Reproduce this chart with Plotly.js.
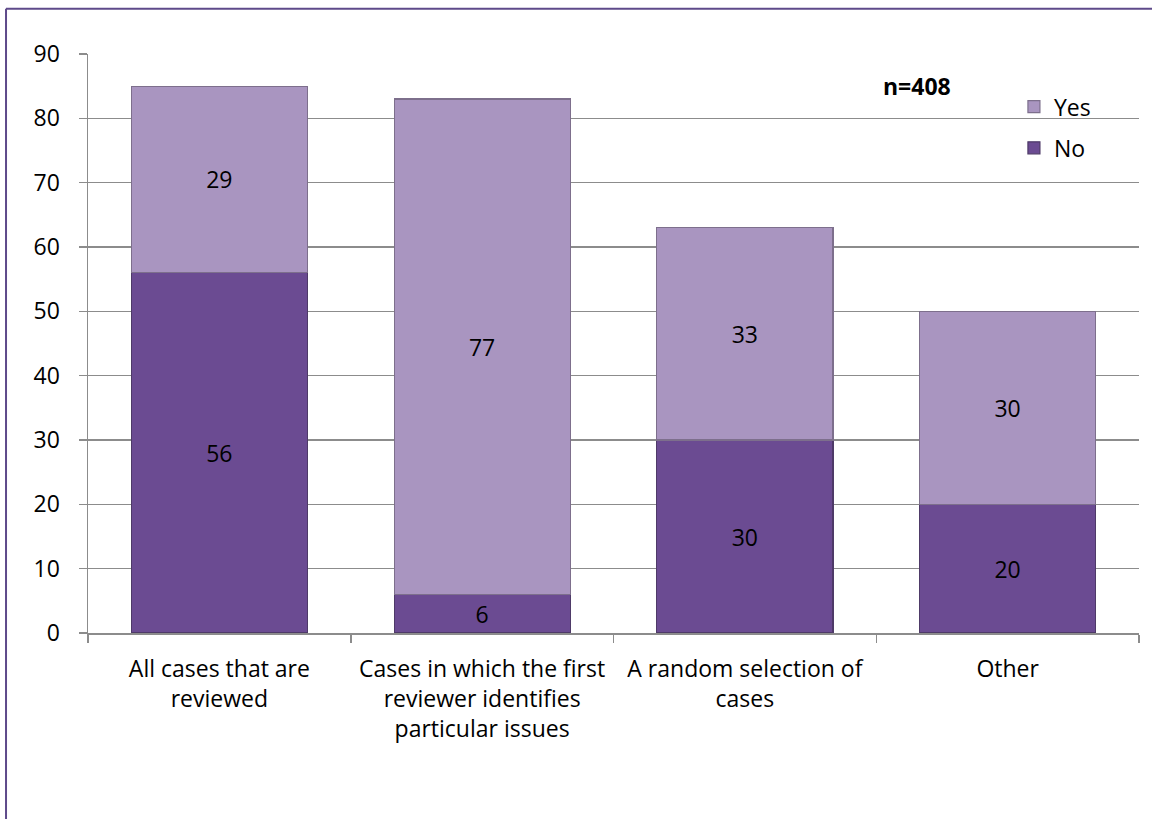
<!DOCTYPE html>
<html>
<head>
<meta charset="utf-8">
<script src="https://cdn.plot.ly/plotly-3.0.1.min.js"></script>
<style>
  html, body { margin: 0; padding: 0; background: #ffffff; }
  #chart { width: 1152px; height: 819px; }
</style>
</head>
<body>
<div id="chart"></div>
<script>
// Second-review coverage by case type, split into Yes / No responses
const categories = [
  'All cases that are<br>reviewed',
  'Cases in which the first<br>reviewer identifies<br>particular issues',
  'A random selection of<br>cases',
  'Other'
];
const noValues = [56, 6, 30, 20];
const yesValues = [29, 77, 33, 30];
const yTicks = [0, 10, 20, 30, 40, 50, 60, 70, 80, 90];
const sampleNote = 'n=408';

const FONT = '"Open Sans", Lato, sans-serif';
const FS = 23;
const GRID = '#8c8c8c';
const FRAME = '#5e4a8a';

const traces = [
  {
    type: 'bar',
    name: 'No',
    x: categories,
    y: noValues,
    text: noValues.map(String),
    textposition: 'inside',
    insidetextanchor: 'middle',
    constraintext: 'none',
    textfont: { family: FONT, size: FS, color: '#000000' },
    marker: { color: '#6b4b92', line: { color: '#4e3a68', width: 1.2 } },
    hoverinfo: 'x+y+name',
    legend: 'legend2'
  },
  {
    type: 'bar',
    name: 'Yes',
    x: categories,
    y: yesValues,
    text: yesValues.map(String),
    textposition: 'inside',
    insidetextanchor: 'middle',
    constraintext: 'none',
    textfont: { family: FONT, size: FS, color: '#000000' },
    marker: { color: '#a995c0', line: { color: '#7d6f8c', width: 1.2 } },
    hoverinfo: 'x+y+name',
    legend: 'legend'
  }
];

const layout = {
  width: 1152,
  height: 819,
  margin: { l: 88, r: 13, t: 54, b: 186 },
  paper_bgcolor: '#ffffff',
  plot_bgcolor: '#ffffff',
  barmode: 'stack',
  bargap: 0.33,
  font: { family: FONT, size: FS, color: '#000000' },
  showlegend: true,
  legend: {
    x: 0.881, y: 0.946, xanchor: 'left', yanchor: 'top',
    font: { family: FONT, size: FS, color: '#000000' },
    bgcolor: 'rgba(0,0,0,0)', itemwidth: 30
  },
  legend2: {
    x: 0.881, y: 0.875, xanchor: 'left', yanchor: 'top',
    font: { family: FONT, size: FS, color: '#000000' },
    bgcolor: 'rgba(0,0,0,0)', itemwidth: 30
  },
  xaxis: {
    type: 'category',
    showgrid: false,
    showline: true,
    linecolor: GRID,
    linewidth: 1.5,
    ticks: 'outside',
    tickson: 'boundaries',
    ticklen: 8,
    tickcolor: GRID,
    tickwidth: 1.5,
    ticklabelstandoff: 15,
    tickfont: { family: FONT, size: FS, color: '#000000' },
    fixedrange: true
  },
  yaxis: {
    range: [0, 90],
    tickvals: yTicks,
    ticktext: yTicks.map(String),
    showgrid: true,
    gridcolor: GRID,
    gridwidth: 1.5,
    zeroline: false,
    showline: true,
    linecolor: GRID,
    linewidth: 1.5,
    ticks: 'outside',
    ticklen: 8,
    tickcolor: GRID,
    tickwidth: 1.5,
    ticklabelstandoff: 14,
    tickfont: { family: FONT, size: FS, color: '#000000' },
    fixedrange: true
  },
  annotations: [
    {
      text: '<b>' + sampleNote + '</b>',
      xref: 'paper', yref: 'paper',
      x: 0.789, y: 0.945,
      xanchor: 'center', yanchor: 'middle',
      showarrow: false,
      font: { family: FONT, size: FS, color: '#000000' }
    }
  ],
  shapes: [
    // chart frame: left and top edges
    { type: 'line', xref: 'paper', yref: 'paper', x0: -0.078, x1: -0.078, y0: 1.078, y1: -0.35, line: { color: FRAME, width: 2 } },
    { type: 'line', xref: 'paper', yref: 'paper', x0: -0.078, x1: 1.02, y0: 1.078, y1: 1.078, line: { color: FRAME, width: 2 } }
  ]
};

Plotly.newPlot('chart', traces, layout, { displayModeBar: false, staticPlot: true });
</script>
</body>
</html>
